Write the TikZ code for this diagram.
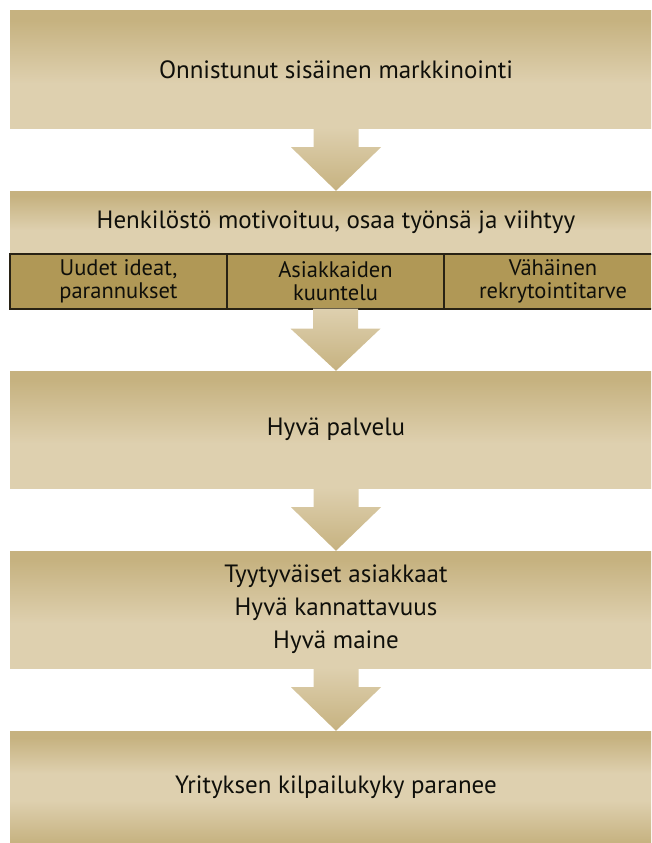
\documentclass[tikz,border=0pt]{standalone}
\usepackage{fontspec}
\setmainfont{PT Sans}
\usetikzlibrary{calc}
\definecolor{dk}{RGB}{198,178,128}
\definecolor{lt}{RGB}{222,208,175}
\definecolor{subc}{RGB}{176,152,86}
\definecolor{edge}{RGB}{40,34,20}
\definecolor{txt}{RGB}{15,15,10}
\pgfdeclareverticalshading{shadeA}{100bp}{color(0bp)=(lt); color(25bp)=(lt); color(44bp)=(lt); color(71bp)=(dk); color(75bp)=(dk); color(100bp)=(dk)}
\pgfdeclareverticalshading{shadeB}{100bp}{color(0bp)=(dk); color(25bp)=(dk); color(44bp)=(lt); color(56bp)=(lt); color(72bp)=(dk); color(75bp)=(dk); color(100bp)=(dk)}
\tikzset{
  box/.style={rectangle, minimum width=652pt, inner sep=0pt, shading=shadeA, text=txt,
    font=\fontsize{25}{33}\selectfont, align=center},
  cell/.style={rectangle, draw=edge, line width=1.2pt, fill=subc, inner sep=0pt,
    minimum height=55pt, text=txt, font=\fontsize{22.5}{23}\selectfont, align=center},
  blockarrow/.style={top color=lt, bottom color=dk, draw=none}
}
\newcommand{\blockarr}[2]{%
  \path[blockarrow] ([xshift=-22.5pt,yshift=1pt]#1.south) -- ([xshift=22.5pt,yshift=1pt]#1.south)
    -- ([xshift=22.5pt,yshift=-19pt]#1.south) -- ([xshift=45pt,yshift=-19pt]#1.south)
    -- (#2.north) -- ([xshift=-45pt,yshift=-19pt]#1.south)
    -- ([xshift=-22.5pt,yshift=-19pt]#1.south) -- cycle;}
\begin{document}
\begin{tikzpicture}[x=1pt,y=-1pt]
\useasboundingbox (0,0) rectangle (651,843);
\clip (0,0) rectangle (651,843);
\node[box, minimum height=117pt] (b1) at (336,69.5) {Onnistunut sisäinen markkinointi};
\node[box, minimum height=63pt] (b2) at (336,222.5) {Henkilöstö motivoituu, osaa työnsä ja viihtyy};
\node[cell, minimum width=217pt] (c1) at (118.5,281.5) {Uudet ideat,\\parannukset};
\node[cell, minimum width=217pt] (c2) at (335.5,281.5) {Asiakkaiden\\kuuntelu};
\node[cell, minimum width=218pt] (c3) at (553,281.5) {Vähäinen\\rekrytointitarve};
\node[box, minimum height=117pt] (b3) at (336,429.5) {Hyvä palvelu};
\node[box, minimum height=117pt] (b4) at (336,609.5) {Tyytyväiset asiakkaat\\Hyvä kannattavuus\\Hyvä maine};
\node[box, minimum height=112pt, shading=shadeB] (b5) at (336,787) {Yrityksen kilpailukyky paranee};
\blockarr{b1}{b2}
\blockarr{c2}{b3}
\blockarr{b3}{b4}
\blockarr{b4}{b5}
\end{tikzpicture}
\end{document}
